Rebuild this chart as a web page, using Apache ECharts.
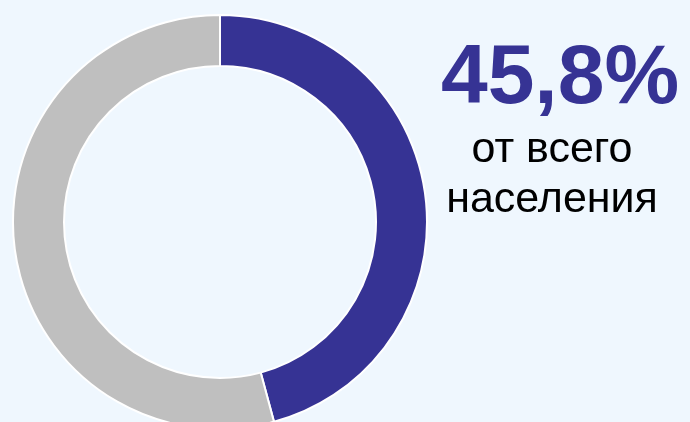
<!DOCTYPE html>
<html><head><meta charset="utf-8">
<script src="https://cdn.jsdelivr.net/npm/echarts@6/dist/echarts.min.js"></script>
<style>html,body{margin:0;padding:0;background:#eff7fe;}#c{width:690px;height:422px;}</style>
</head><body><div id="c"></div>
<script>
const categories = ['Доля', 'Остальные'];
const values = [45.8, 54.2];
const colors = ['#363394', '#bfbfbf'];
const headline = '45,8%';
const caption = ['от всего', 'населения'];

const chart = echarts.init(document.getElementById('c'), null, {renderer: 'canvas'});
chart.setOption({
  backgroundColor: '#eff7fe',
  animation: false,
  series: [{
    type: 'pie',
    center: [220, 222],
    radius: [156, 207],
    startAngle: 90,
    clockwise: true,
    silent: true,
    label: {show: false},
    labelLine: {show: false},
    itemStyle: {borderColor: '#ffffff', borderWidth: 2},
    data: categories.map((n, i) => ({name: n, value: values[i], itemStyle: {color: colors[i]}}))
  }],
  graphic: [
    {type: 'text', x: 560, y: 80, style: {
      text: headline, textAlign: 'center', textVerticalAlign: 'middle',
      font: 'bold 84px "Liberation Sans", Arial, sans-serif', fill: '#363394'}},
    {type: 'text', x: 552, y: 150, style: {
      text: caption[0], textAlign: 'center', textVerticalAlign: 'middle',
      font: '43px "Liberation Sans", Arial, sans-serif', fill: '#000000'}},
    {type: 'text', x: 552, y: 200, style: {
      text: caption[1], textAlign: 'center', textVerticalAlign: 'middle',
      font: '43px "Liberation Sans", Arial, sans-serif', fill: '#000000'}}
  ]
});
</script></body></html>
